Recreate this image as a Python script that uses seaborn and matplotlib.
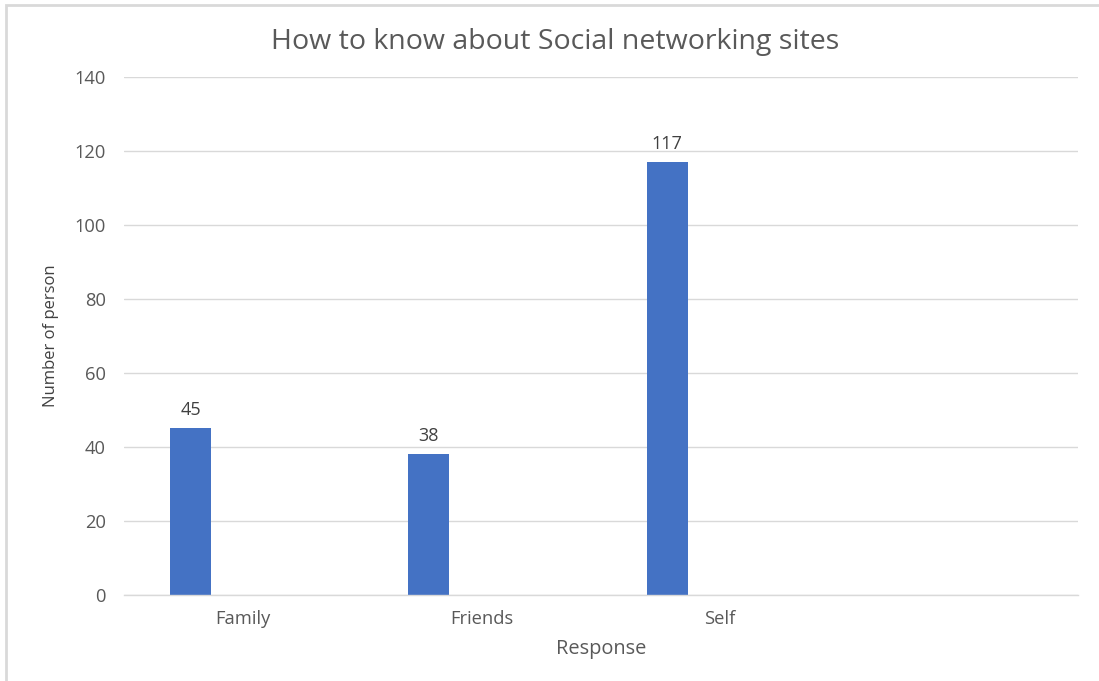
import matplotlib
matplotlib.use("Agg")
import matplotlib.pyplot as plt
import seaborn as sns
import pandas as pd
from matplotlib.patches import Rectangle

categories = ["Family", "Friends", "Self"]
values = [45, 38, 117]
empty_slot = [""]
yticks = [0, 20, 40, 60, 80, 100, 120, 140]

sns.set_theme(style="white")
plt.rcParams['font.family'] = ['Open Sans', 'DejaVu Sans']

df = pd.DataFrame({"Response": categories, "Number of person": values})

fig = plt.figure(figsize=(10.99, 6.81), dpi=100)
ax = fig.add_axes([0.1128, 0.1263, 0.8677, 0.7606])

bar_width = 0.172
bar_shift = -0.221
sns.barplot(data=df, x="Response", y="Number of person", order=categories + empty_slot,
            color="#4472C4", saturation=1, width=bar_width, ax=ax, errorbar=None,
            edgecolor="none")

for p in ax.patches:
    p.set_x(p.get_x() + bar_shift)

for p, v in zip(ax.patches, values):
    ax.annotate(str(v), (p.get_x() + p.get_width() / 2, p.get_height()),
                xytext=(0, 6.5), textcoords="offset points", ha="center", va="bottom",
                fontsize=13, color="#404040")

ax.set_ylim(0, 140)
ax.set_xlim(-0.5, 3.5)
ax.set_yticks(yticks)
ax.yaxis.grid(True, color="#D9D9D9", linewidth=1)
ax.set_axisbelow(True)
for s in ["top", "right", "left"]:
    ax.spines[s].set_visible(False)
ax.spines["bottom"].set_color("#D9D9D9")
ax.spines["bottom"].set_linewidth(1)
ax.tick_params(axis="both", length=0, colors="#595959", labelsize=13.2)
ax.tick_params(axis="y", pad=13)
ax.tick_params(axis="x", pad=10.5)

ax.set_xlabel("Response", fontsize=14.4, color="#595959", labelpad=8)
ax.set_ylabel("Number of person", fontsize=12, color="#404040", labelpad=11)
fig.suptitle("How to know about Social networking sites", fontsize=20.5,
             color="#595959", y=0.939, x=0.505, va="center")

fig.patches.append(Rectangle((0.0055, -0.1), 1.2, 1.0926, transform=fig.transFigure,
                             fill=False, edgecolor="#D9D9D9", linewidth=2))

fig.savefig("out.png", dpi=100, facecolor="white")
